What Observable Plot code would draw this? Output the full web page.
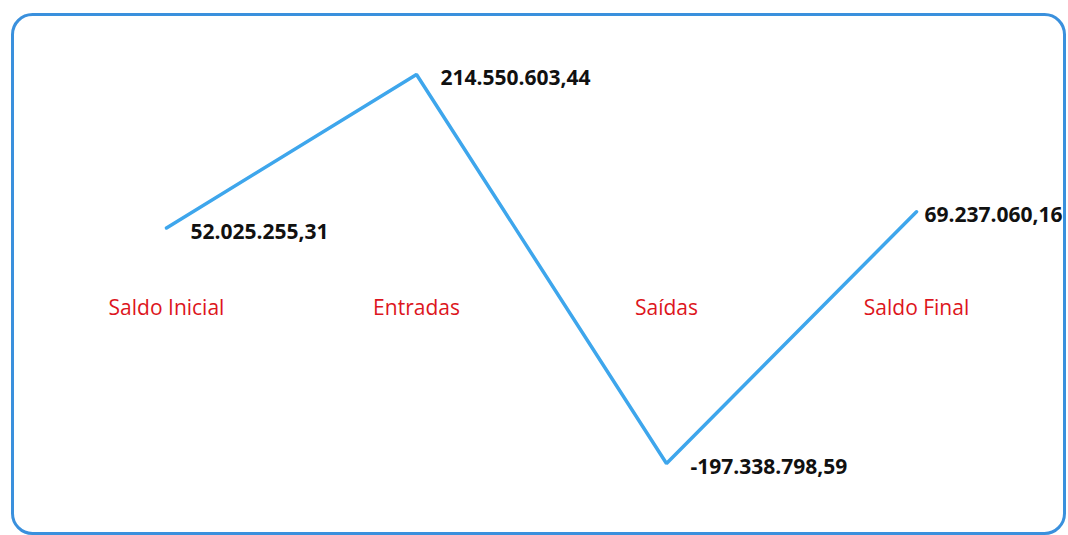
<!DOCTYPE html>
<html>
<head>
<meta charset="utf-8">
<script src="https://cdn.jsdelivr.net/npm/d3@7"></script>
<script src="https://cdn.jsdelivr.net/npm/@observablehq/plot@0.6"></script>
<style>
  html, body { margin: 0; padding: 0; background: #fff; }
  #chart svg { display: block; }
</style>
</head>
<body>
<div id="chart"></div>
<script>
const categories = ["Saldo Inicial", "Entradas", "Saídas", "Saldo Final"];
const values = [52025255.31, 214550603.44, -197338798.59, 69237060.16];
const valueLabels = ["52.025.255,31", "214.550.603,44", "-197.338.798,59", "69.237.060,16"];

const data = categories.map((c, i) => ({category: c, value: values[i], label: valueLabels[i], idx: i}));
const last = data.length - 1;

const chart = Plot.plot({
  width: 1068,
  height: 535,
  marginLeft: 12,
  marginTop: 14,
  marginRight: 4,
  marginBottom: 2,
  style: {background: "#ffffff", fontFamily: "'Open Sans', sans-serif"},
  x: {type: "point", domain: categories, range: [166, 916], padding: 0, axis: null},
  y: {domain: [d3.min(values), d3.max(values)], range: [463, 74], axis: null},
  marks: [
    Plot.frame({stroke: "#3a90dd", strokeWidth: 3, rx: 20, ry: 20}),
    Plot.line(data, {x: "category", y: "value", stroke: "#3ea6ec", strokeWidth: 3.5, strokeLinejoin: "miter", strokeLinecap: "round"}),
    Plot.text(data, {x: "category", y: () => 0, text: "category", fill: "#dd1520", fontSize: 21, dy: 31}),
    Plot.text(data.filter(d => d.idx !== last), {x: "category", y: "value", text: "label", textAnchor: "start", fill: "#111111", fontWeight: "bold", fontSize: 21, dx: 24, dy: 4}),
    Plot.text(data.filter(d => d.idx === last), {x: "category", y: "value", text: "label", textAnchor: "start", fill: "#111111", fontWeight: "bold", fontSize: 21, dx: 8, dy: 4})
  ]
});
document.getElementById("chart").appendChild(chart);
</script>
</body>
</html>
